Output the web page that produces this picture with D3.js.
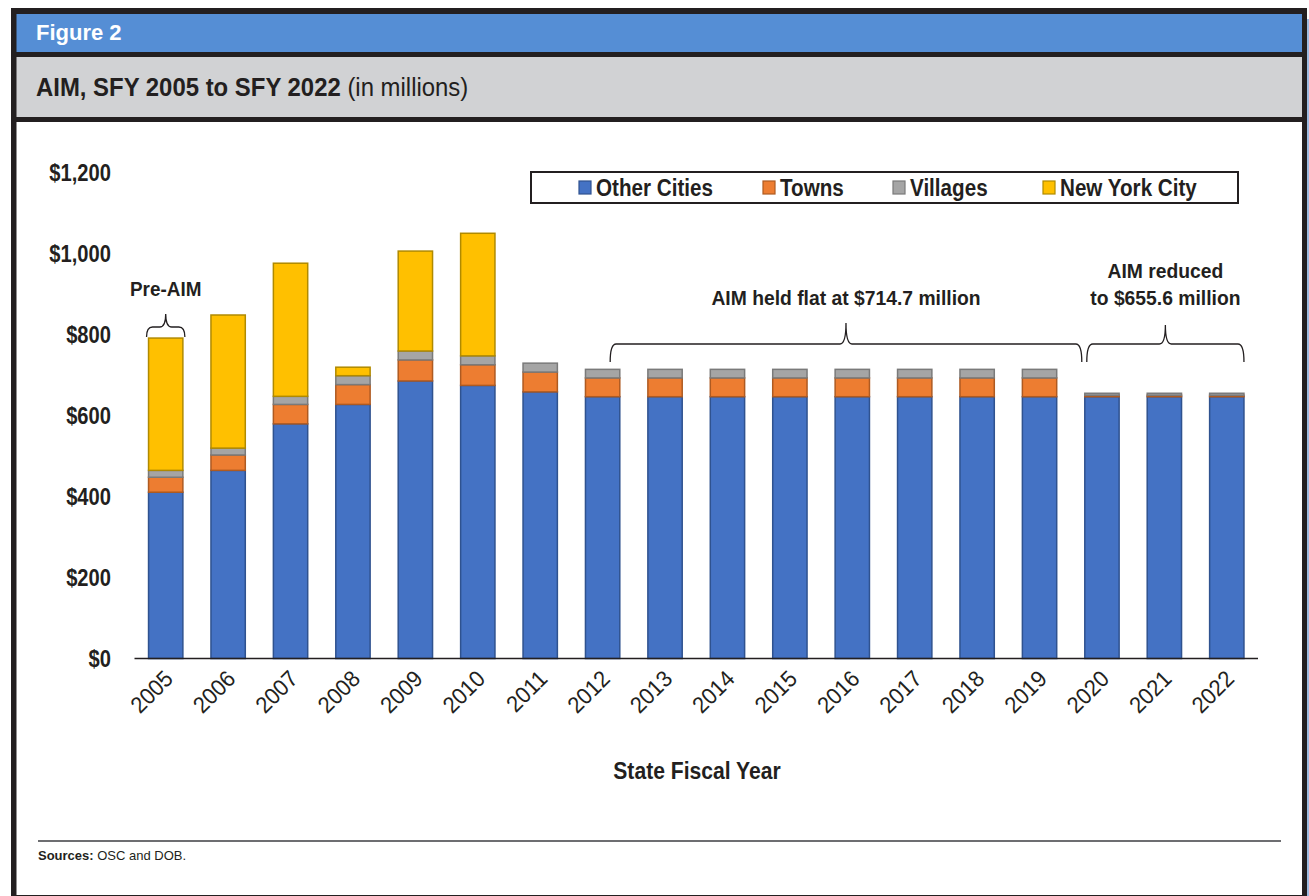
<!DOCTYPE html>
<meta charset="utf-8">
<style>
body { margin: 0; background: #fff; }
svg { display: block; }
text { font-family: "Liberation Sans", Arial, sans-serif; fill: #231f20; }
.bold { font-weight: bold; }
</style>
<body>
<svg width="1309" height="896"></svg>
<script src="https://cdnjs.cloudflare.com/ajax/libs/d3/7.8.5/d3.min.js"></script>
<script>

// data (in millions)
var years = ["2005","2006","2007","2008","2009","2010","2011","2012","2013","2014","2015","2016","2017","2018","2019","2020","2021","2022"];
var otherCities = [411, 465, 580, 628, 686, 675, 659, 647.1, 647.1, 647.1, 647.1, 647.1, 647.1, 647.1, 647.1, 647.1, 647.1, 647.1];
var towns       = [37, 38, 48, 49, 52, 51, 49, 46.4, 46.4, 46.4, 46.4, 46.4, 46.4, 46.4, 46.4, 3.6, 3.6, 3.6];
var villages    = [17, 17, 20, 22, 22, 22, 22, 21.2, 21.2, 21.2, 21.2, 21.2, 21.2, 21.2, 21.2, 4.9, 4.9, 4.9];
var nyc         = [327, 329, 329, 21, 247, 303, 0, 0, 0, 0, 0, 0, 0, 0, 0, 0, 0, 0];
var seriesNames = ["Other Cities", "Towns", "Villages", "New York City"];
var yTicks = [0, 200, 400, 600, 800, 1000, 1200];

var fills = ["#4472c4", "#ed7d31", "#a5a5a5", "#ffc000"];
var strokes = ["#2f528f", "#ae5a21", "#7a7a7a", "#b08a00"];

var svg = d3.select("svg");

// narrow-looking bold text: Liberation Sans squeezed a little
function label(parent, x, y, txt, size, anchor, sx) {
  return parent.append("text")
    .attr("class", "bold")
    .attr("transform", "translate(" + x + "," + y + ") scale(" + (sx || 0.88) + ",1)")
    .attr("text-anchor", anchor || "start")
    .attr("font-size", size)
    .text(txt);
}

// frame
svg.append("rect").attr("x", 11).attr("y", 8).attr("width", 1296).attr("height", 900).attr("fill", "#231f20");
svg.append("rect").attr("x", 16.5).attr("y", 14).attr("width", 1285.5).attr("height", 38).attr("fill", "#558ed5");
svg.append("rect").attr("x", 16.5).attr("y", 57).attr("width", 1285.5).attr("height", 60).attr("fill", "#d1d2d4");
svg.append("rect").attr("x", 16.5).attr("y", 122).attr("width", 1285.5).attr("height", 773).attr("fill", "#fff");
svg.append("rect").attr("x", 1307).attr("y", 19).attr("width", 2).attr("height", 877).attr("fill", "#9dbbe0");

svg.append("text").attr("class", "bold").attr("x", 36).attr("y", 40)
  .attr("font-size", 22).style("fill", "#fff").text("Figure 2");

var title = svg.append("text").attr("transform", "translate(36,96) scale(0.92,1)").attr("font-size", 26);
title.append("tspan").attr("class", "bold").text("AIM, SFY 2005 to SFY 2022");
title.append("tspan").text(" (in millions)");

// scales
var x = d3.scaleBand().domain(years).range([134.5, 1258]).paddingInner(0.45).paddingOuter(0.225);
var y = d3.scaleLinear().domain([0, 1200]).range([658.5, 173]);

var rows = years.map(function(yr, i) {
  return { year: yr, "Other Cities": otherCities[i], "Towns": towns[i], "Villages": villages[i], "New York City": nyc[i] };
});
var stacked = d3.stack().keys(seriesNames)(rows);

var g = svg.append("g");

// y labels
yTicks.forEach(function(d) {
  label(g, 111, y(d) + 8, "$" + d3.format(",")(d), 24, "end", 0.84);
});

// bars
stacked.forEach(function(s, k) {
  g.selectAll(null).data(s.filter(function(d) { return d[1] - d[0] > 0; })).enter().append("rect")
    .attr("x", function(d) { return x(d.data.year); })
    .attr("width", x.bandwidth())
    .attr("y", function(d) { return y(d[1]); })
    .attr("height", function(d) { return y(d[0]) - y(d[1]); })
    .attr("fill", fills[k])
    .attr("stroke", strokes[k])
    .attr("stroke-width", 1.5);
});

// x axis
g.append("line").attr("x1", 134.5).attr("x2", 1258).attr("y1", y(0)).attr("y2", y(0))
  .attr("stroke", "#231f20").attr("stroke-width", 1.5);

g.selectAll("text.xtick").data(years).enter().append("text")
  .attr("transform", function(d) { return "translate(" + (x(d) + x.bandwidth() / 2 + 3) + "," + (y(0) + 16) + ") rotate(-45) scale(0.95,1)"; })
  .attr("text-anchor", "end").attr("dy", "0.35em").attr("font-size", 23)
  .text(function(d) { return d; });

label(g, 697, 779, "State Fiscal Year", 24, "middle", 0.88);

// legend
var leg = g.append("g");
leg.append("rect").attr("x", 531).attr("y", 172).attr("width", 707).attr("height", 31)
  .attr("fill", "#fff").attr("stroke", "#231f20").attr("stroke-width", 2);
var legX = [579, 763, 893, 1043];
seriesNames.forEach(function(name, k) {
  leg.append("rect").attr("x", legX[k]).attr("y", 181).attr("width", 12).attr("height", 13)
    .attr("fill", fills[k]).attr("stroke", strokes[k]).attr("stroke-width", 1.2);
  label(leg, legX[k] + 17, 196, name, 24, "start", 0.86);
});

// braces
function brace(x1, x2, yEnd, yMid, yTip) {
  var xm = (x1 + x2) / 2, r = 6;
  return "M" + x1 + "," + yEnd +
    " Q" + x1 + "," + yMid + " " + (x1 + r) + "," + yMid +
    " L" + (xm - r) + "," + yMid +
    " Q" + xm + "," + yMid + " " + xm + "," + yTip +
    " Q" + xm + "," + yMid + " " + (xm + r) + "," + yMid +
    " L" + (x2 - r) + "," + yMid +
    " Q" + x2 + "," + yMid + " " + x2 + "," + yEnd;
}
var braceStyle = function(p) { p.attr("fill", "none").attr("stroke", "#231f20").attr("stroke-width", 1.3); };

g.append("path").attr("d", brace(x("2005") - 2, x("2005") + x.bandwidth() + 2, 337, 327, 314)).call(braceStyle);
label(g, x("2005") + x.bandwidth() / 2, 296, "Pre-AIM", 21, "middle", 0.9);

var b1a = x("2012") + x.bandwidth() * 0.72, b1b = x("2020") - 3;
g.append("path").attr("d", brace(b1a, b1b, 362, 344, 323)).call(braceStyle);
label(g, (b1a + b1b) / 2, 305, "AIM held flat at $714.7 million", 21, "middle", 0.92);

var b2a = x("2020") + 2, b2b = x("2022") + x.bandwidth();
g.append("path").attr("d", brace(b2a, b2b, 362, 344, 325)).call(braceStyle);
label(g, (b2a + b2b) / 2, 278, "AIM reduced", 21, "middle", 0.92);
label(g, (b2a + b2b) / 2, 305, "to $655.6 million", 21, "middle", 0.92);

// sources
g.append("line").attr("x1", 38).attr("x2", 1281).attr("y1", 841).attr("y2", 841)
  .attr("stroke", "#6d6e71").attr("stroke-width", 2);
var src = g.append("text").attr("x", 38).attr("y", 860).attr("font-size", 13);
src.append("tspan").attr("class", "bold").text("Sources:");
src.append("tspan").text(" OSC and DOB.");

</script>
